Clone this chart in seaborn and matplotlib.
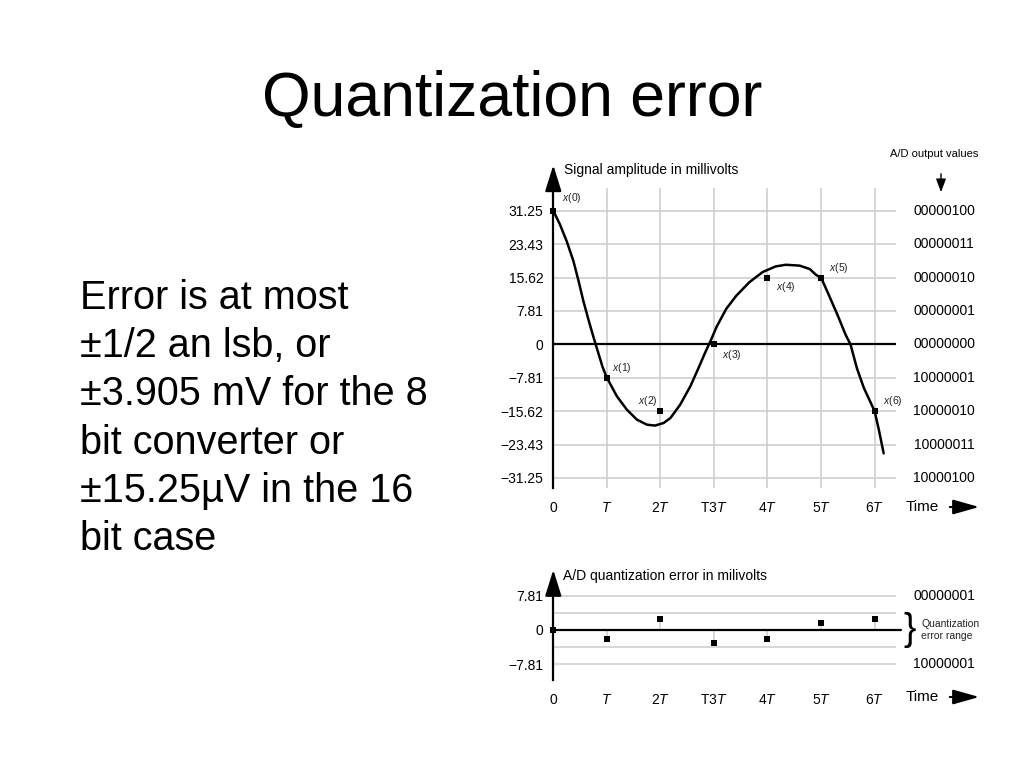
import matplotlib
matplotlib.use("Agg")
import matplotlib.pyplot as plt
import seaborn as sns

# ---- data ----
curve_t = [0, 0.125, 0.25, 0.375, 0.47, 0.56, 0.66, 0.75, 0.825, 0.92, 1.0, 1.19,
           1.375, 1.56, 1.75, 1.9, 2.06, 2.19, 2.37, 2.56, 2.71, 2.83, 2.93, 3.05,
           3.23, 3.42, 3.66, 3.91, 4.15, 4.34, 4.6, 4.79, 4.91, 5.0, 5.15, 5.31,
           5.46, 5.55, 5.67, 5.80, 5.9, 6.0, 6.08, 6.17]
curve_v = [31.25, 28.0, 24.1, 19.5, 14.9, 10.2, 5.6, 1.7, -1.4, -5.3, -7.81, -12.2,
           -15.3, -17.6, -18.8, -19.0, -18.4, -17.2, -14.1, -9.8, -5.6, -2.1, 0.6, 4.1,
           8.3, 11.4, 14.5, 16.9, 18.2, 18.6, 18.4, 17.6, 16.2, 15.62, 11.4, 6.8,
           2.2, 0, -5.6, -10.2, -12.9, -15.62, -20.0, -25.5]

sample_t = [0, 1, 2, 3, 4, 5, 6]
sample_v = [31.25, -7.81, -15.62, 0, 15.62, 15.62, -15.62]
sample_names = ['$x$(0)', '$x$(1)', '$x$(2)', '$x$(3)', '$x$(4)', '$x$(5)', '$x$(6)']

levels = [31.25, 23.43, 15.62, 7.81, 0, -7.81, -15.62, -23.43, -31.25]
level_labels = ['31.25', '23.43', '15.62', '7.81', '0', '\u22127.81', '\u221215.62',
                '\u221223.43', '\u221231.25']
codes = ['00000100', '00000011', '00000010', '00000001', '00000000',
         '10000001', '10000010', '10000011', '10000100']

err_v = [0, -1.95, 2.5, -2.95, -1.95, 1.5, 2.5]
err_levels = [7.81, 0, -7.81]
err_level_labels = ['7.81', '0', '\u22127.81']
err_codes = ['00000001', '10000001']
half_lsb = 3.905

tick_labels = ['0', '$T$', '2$T$', 'T3$T$', '4$T$', '5$T$', '6$T$']

body = ("Error is at most\n\u00b11/2 an lsb, or\n\u00b13.905 mV for the 8\n"
        "bit converter or\n\u00b115.25\u00b5V in the 16\nbit case")

# ---- style ----
sns.set_theme(style="white")
plt.rcParams['font.family'] = ['Liberation Sans', 'DejaVu Sans']
plt.rcParams['mathtext.fontset'] = 'custom'
plt.rcParams['mathtext.rm'] = 'Liberation Sans'
plt.rcParams['mathtext.it'] = 'Liberation Sans:italic'
for k in ['text.color', 'axes.labelcolor', 'xtick.color', 'ytick.color']:
    plt.rcParams[k] = 'black'

W, H = 1024, 768
fig = plt.figure(figsize=(10.24, 7.68), dpi=100)
fig.patch.set_facecolor('white')

def px(x, y):
    return x / W, 1 - y / H

fig.text(*px(512, 99), "Quantization error", fontsize=45, ha='center', va='center')
fig.text(*px(80, 279), body, fontsize=28.5, ha='left', va='top', linespacing=1.34)

grid_c = '#cfcfcf'
X0, XW = 553.3, 342.7   # axes left edge / width in pixels

def base_axes(ax, ylim, yticks, ylabels):
    ax.set_xlim(0, 6.4)
    ax.set_ylim(*ylim)
    for s in ['top', 'right', 'bottom']:
        ax.spines[s].set_visible(False)
    ax.spines['left'].set_linewidth(1.6)
    ax.spines['left'].set_color('black')
    ax.set_xticks(sample_t)
    ax.set_xticklabels(tick_labels, fontsize=10)
    ax.set_yticks(yticks)
    ax.set_yticklabels(ylabels, fontsize=10)
    ax.tick_params(axis='both', length=0)
    ax.tick_params(axis='x', pad=9)
    ax.tick_params(axis='y', pad=7)
    ax.set_facecolor('white')

def arrow_up(ax, y0, y1):
    ax.annotate('', xy=(0, y1), xytext=(0, y0), xycoords=ax.get_yaxis_transform(),
                annotation_clip=False,
                arrowprops=dict(arrowstyle='-|>,head_width=0.5,head_length=1.6',
                                color='black', lw=1.6, shrinkA=0, shrinkB=0,
                                mutation_scale=10))

# ---- upper: signal ----
ax1 = fig.add_axes([X0 / W, (H - 488) / H, XW / W, 300 / H])
base_axes(ax1, (-33.6, 36.55), levels, level_labels)
for t in sample_t[1:]:
    ax1.axvline(t, color=grid_c, lw=1.2, zorder=0)
for lv in levels:
    ax1.axhline(lv, color=grid_c, lw=1.2, zorder=0)
ax1.axhline(0, color='black', lw=1.6, zorder=1)

sns.lineplot(x=curve_t, y=curve_v, ax=ax1, color='black', lw=1.8, sort=False, zorder=3)
sns.scatterplot(x=sample_t, y=sample_v, ax=ax1, marker='s', s=14, color='black',
                edgecolor='black', linewidth=0, zorder=4, clip_on=False)

offsets = [(6, 9, 'left'), (4, 7, 'left'), (-2, 7, 'right'), (6, -8, 'left'),
           (6, -7, 'left'), (6, 7, 'left'), (6, 7, 'left')]
for t, v, name, (dx, dy, ha) in zip(sample_t, sample_v, sample_names, offsets):
    ax1.annotate(name, (t, v), xytext=(dx, dy), textcoords='offset points',
                 fontsize=7.5, ha=ha, va='center', color='#222222')

tr1 = ax1.get_yaxis_transform()
for lv, c in zip(levels, codes):
    ax1.text((944 - X0) / XW, lv, c, transform=tr1, fontsize=10,
             ha='center', va='center')
arrow_up(ax1, 36.55, 41.9)
fig.text(*px(564, 170), "Signal amplitude in millivolts", fontsize=10, ha='left', va='center')
fig.text(*px(934, 154), "A/D output values", fontsize=8, ha='center', va='center')
fig.add_artist(matplotlib.patches.FancyArrowPatch(
    px(941, 171), px(941, 195), transform=fig.transFigure,
    arrowstyle='-|>,head_width=0.3,head_length=0.8', mutation_scale=10,
    color='black', lw=1.0))

# ---- lower: quantization error ----
ax2 = fig.add_axes([X0 / W, (H - 680) / H, XW / W, 90 / H])
base_axes(ax2, (-11.4, 9.1), err_levels, err_level_labels)
for lv in [7.81, half_lsb, -half_lsb, -7.81]:
    ax2.axhline(lv, color=grid_c, lw=1.2, zorder=0)
ax2.vlines(sample_t, 0, err_v, color=grid_c, lw=1.2, zorder=1)
ax2.axhline(0, xmax=1.015, color='black', lw=1.6, zorder=2, clip_on=False)
sns.scatterplot(x=sample_t, y=err_v, ax=ax2, marker='s', s=14, color='black',
                edgecolor='black', linewidth=0, zorder=4, clip_on=False)
tr2 = ax2.get_yaxis_transform()
for lv, c in zip([7.81, -7.81], err_codes):
    ax2.text((944 - X0) / XW, lv, c, transform=tr2, fontsize=10,
             ha='center', va='center')
ax2.text((903 - X0) / XW, 0, '}', transform=tr2, fontsize=27, ha='left',
         va='center')
ax2.text((921 - X0) / XW, 0, 'Quantization\nerror range', transform=tr2,
         fontsize=7.5, ha='left', va='center', linespacing=1.3, color='#222222')
arrow_up(ax2, 9.1, 13.7)
fig.text(*px(563, 576), "A/D quantization error in milivolts", fontsize=10,
         ha='left', va='center')

# ---- time arrows ----
for yy in (507, 697):
    fig.text(*px(906, yy), "Time", fontsize=11, ha='left', va='center')
    fig.add_artist(matplotlib.patches.FancyArrowPatch(
        px(947, yy), px(982, yy), transform=fig.transFigure,
        arrowstyle='-|>,head_width=0.45,head_length=1.6', mutation_scale=10,
        color='black', lw=1.5))

fig.savefig('out.png', dpi=100, facecolor='white')
